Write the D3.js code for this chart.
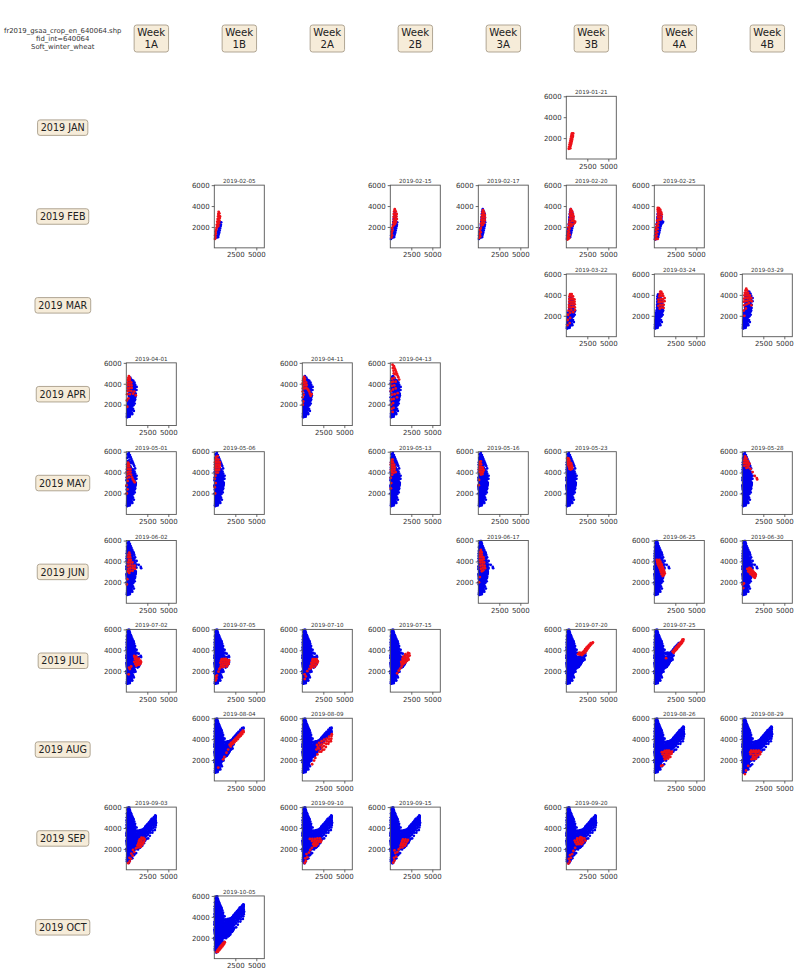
<!DOCTYPE html>
<html>
<head>
<meta charset="utf-8">
<script src="https://d3js.org/d3.v7.min.js"></script>
<style>
  html, body { margin: 0; padding: 0; background: #fff; }
  text { font-family: "DejaVu Sans", sans-serif; }
</style>
</head>
<body>
<div id="svgdiv"></div>
<script>
// labels
const titleLines = ["fr2019_gsaa_crop_en_640064.shp", "fid_int=640064", "Soft_winter_wheat"];
const weeks = ["1A", "1B", "2A", "2B", "3A", "3B", "4A", "4B"];
const months = ["JAN", "FEB", "MAR", "APR", "MAY", "JUN", "JUL", "AUG", "SEP", "OCT"];
const xTicks = [2500, 5000];
const yTicks = [2000, 4000, 6000];

// acquisition dates and the week column each one sits in
const dates = ["2019-01-21",
  "2019-02-05", "2019-02-15", "2019-02-17", "2019-02-20", "2019-02-25",
  "2019-03-22", "2019-03-24", "2019-03-29",
  "2019-04-01", "2019-04-11", "2019-04-13",
  "2019-05-01", "2019-05-06", "2019-05-13", "2019-05-16", "2019-05-23", "2019-05-28",
  "2019-06-02", "2019-06-17", "2019-06-25", "2019-06-30",
  "2019-07-02", "2019-07-05", "2019-07-10", "2019-07-15", "2019-07-20", "2019-07-25",
  "2019-08-04", "2019-08-09", "2019-08-26", "2019-08-29",
  "2019-09-03", "2019-09-10", "2019-09-15", "2019-09-20",
  "2019-10-05"];
const dateWeeks = ["3B",
  "1B", "2B", "3A", "3B", "4A",
  "3B", "4A", "4B",
  "1A", "2A", "2B",
  "1A", "1B", "2B", "3A", "3B", "4B",
  "1A", "3A", "4A", "4B",
  "1A", "1B", "2A", "2B", "3B", "4A",
  "1B", "2A", "4A", "4B",
  "1A", "2A", "2B", "3B",
  "1B"];

// scatter points per date [x, y], estimated by eye from each panel
const p0121 = [[300,980],[470,1030],[340,1180],[520,1260],[400,1400],[590,1450],[460,1600],[640,1660],[510,1800],[690,1850],[550,1980],[740,2050],[600,2180],[790,2200],[640,2330],[820,2440],[680,2450]];
const p0205 = [[80,850],[130,1000],[100,1180],[170,1350],[150,1550],[230,1700],[260,1900],[350,2000],[480,2100],[300,2200],[420,2300],[560,2350],[350,2500],[500,2550],[620,2600],[400,2750],[550,2800],[650,2850],[450,3000],[580,3050],[680,3000],[480,3250],[600,3300],[520,3450]];
const p0215 = [[120,1000],[200,1200],[170,1450],[250,1650],[220,1900],[330,2100],[450,2200],[580,2300],[370,2400],[500,2500],[680,2500],[420,2700],[600,2750],[780,2750],[400,2950],[550,3000],[720,3000],[420,3250],[580,3250],[760,3250],[470,3500],[640,3500],[530,3700]];
const p0217 = [[110,950],[230,1100],[160,1300],[280,1500],[200,1700],[300,1900],[400,2150],[550,2200],[330,2350],[480,2450],[700,2400],[380,2650],[560,2700],[760,2650],[400,2900],[600,2950],[800,2900],[440,3150],[620,3200],[780,3150],[500,3400],[680,3400],[560,3600]];
const p0220 = [[120,800],[240,850],[360,950],[110,1050],[250,1150],[420,1250],[180,1350],[320,1500],[230,1650],[380,1800],[260,1950],[450,2050],[620,2100],[320,2250],[550,2300],[820,2250],[1000,2400],[1050,2500],[380,2500],[680,2550],[880,2600],[420,2750],[620,2800],[830,2800],[480,3000],[680,3050],[860,3000],[440,3250],[620,3300],[790,3250],[500,3500],[690,3500],[540,3700]];
const p0225 = [[110,820],[250,900],[400,850],[130,1100],[300,1200],[150,1400],[350,1500],[180,1700],[400,1800],[220,1950],[440,2100],[300,2250],[480,2400],[340,2600],[460,2700],[620,2700],[800,2720],[430,2950],[600,2950],[830,2950],[450,3200],[620,3200],[880,3200],[440,3450],[620,3450],[820,3400],[400,3650],[580,3680],[720,3620],[420,3830],[560,3790]];
const p0322 = [[140,1100],[400,1300],[180,1600],[460,1800],[220,2100],[460,2300],[820,2350],[280,2500],[600,2550],[1020,2550],[330,2800],[560,2800],[780,2850],[1020,2800],[330,3050],[540,3100],[780,3100],[1000,3100],[360,3350],[570,3350],[800,3350],[980,3350],[360,3600],[570,3620],[780,3620],[960,3580],[380,3850],[600,3850],[800,3850],[450,4060],[640,4080]];
const p0324 = [[650,2700],[860,2800],[1100,2750],[500,2950],[720,3050],[950,3050],[1120,3050],[530,3300],[740,3350],[960,3350],[1210,3400],[500,3550],[760,3600],[1000,3600],[1230,3700],[600,3850],[830,3900],[1060,3900],[640,4100],[820,4150],[980,4100],[720,4320],[840,4280]];
const p0329 = [[250,2000],[180,2500],[420,2700],[230,3000],[500,3100],[760,3200],[1080,3000],[150,3350],[380,3400],[620,3450],[880,3500],[1110,3400],[200,3650],[420,3700],[650,3700],[860,3750],[1080,3700],[250,3950],[470,3950],[680,3950],[900,3950],[300,4200],[510,4200],[700,4200],[380,4420],[570,4430],[470,4600]];
const p0401 = [[120,1800],[70,2400],[250,2600],[100,3000],[420,3000],[800,3050],[1130,2900],[160,3300],[370,3350],[600,3300],[950,3250],[180,3550],[400,3600],[640,3600],[170,3850],[400,3850],[630,3850],[160,4100],[380,4100],[590,4120],[200,4350],[420,4350],[240,4550],[420,4550],[310,4730]];
const p0411 = [[60,2000],[110,2300],[40,2700],[160,2950],[40,3250],[1000,2850],[1100,3000],[900,3050],[820,3250],[720,3400],[620,3500],[60,3550],[280,3550],[480,3620],[90,3800],[300,3850],[520,3880],[60,4050],[260,4080],[460,4120],[90,4300],[280,4330],[130,4500],[320,4500],[230,4660]];
const p0413 = [[280,1300],[160,1600],[390,1700],[100,2000],[340,2150],[150,2500],[420,2550],[800,2700],[220,2950],[520,3000],[880,3100],[60,3300],[320,3450],[640,3550],[200,3800],[470,3850],[130,4150],[340,4200],[640,4200],[1050,4400],[220,4480],[480,4550],[950,4620],[860,4780],[790,4950],[560,4900],[700,5120],[420,5000],[610,5300],[390,5250],[520,5480],[300,5500],[430,5680],[270,5820]];
const p0501 = [[60,2000],[140,2400],[40,2800],[1000,3070],[900,3200],[160,3200],[780,3350],[80,3500],[330,3550],[680,3550],[120,3800],[370,3850],[570,3800],[80,4050],[290,4100],[500,4100],[100,4350],[300,4350],[490,4350],[130,4600],[320,4600],[170,4800],[310,4820],[220,4950]];
const p0506 = [[100,2000],[60,2600],[170,3000],[60,3400],[130,3700],[230,4000],[430,4000],[120,4250],[330,4250],[570,4250],[80,4500],[280,4500],[500,4500],[640,4500],[100,4750],[300,4750],[500,4750],[660,4750],[90,5000],[290,5000],[490,5000],[640,5000],[130,5250],[330,5250],[520,5250],[210,5450],[380,5570]];
const p0513 = [[70,2500],[110,3000],[60,3500],[220,3800],[200,4050],[420,4000],[640,4050],[70,4250],[280,4280],[500,4280],[120,4500],[320,4500],[540,4500],[60,4750],[270,4750],[470,4750],[100,5000],[300,5000],[140,5220],[280,5250]];
const p0516 = [[60,2800],[90,3300],[300,3820],[480,3850],[120,4050],[330,4080],[560,4050],[80,4300],[290,4300],[520,4300],[660,4250],[120,4550],[320,4550],[530,4500],[150,4800],[330,4800],[180,5020],[300,5070]];
const p0523 = [[520,4290],[380,4350],[670,4350],[300,4550],[500,4550],[700,4500],[230,4750],[420,4780],[640,4700],[200,4950],[390,4980],[570,4900],[150,5150],[350,5180],[250,5350],[120,5380]];
const p0528 = [[1770,3350],[1720,3480],[1480,3680],[1230,4050],[980,4350],[500,4450],[700,4500],[250,4650],[480,4700],[730,4700],[220,4900],[450,4920],[680,4900],[860,4850],[230,5150],[450,5150],[660,5100],[300,5350],[500,5350],[350,5540]];
const p0602 = [[60,1800],[120,2300],[350,2900],[200,3050],[500,3100],[750,3100],[260,3300],[500,3350],[820,3350],[1050,3300],[220,3600],[470,3620],[740,3600],[1000,3600],[240,3900],[480,3900],[730,3900],[300,4150],[540,4150],[240,4400],[460,4400],[250,4650],[430,4650],[350,4850]];
const p0617 = [[80,2000],[180,2500],[420,3060],[590,3150],[300,3300],[550,3400],[800,3350],[270,3600],[500,3650],[760,3600],[250,3900],[480,3900],[700,3900],[230,4150],[450,4150],[640,4200],[200,4400],[410,4400],[600,4400],[220,4650],[420,4650],[240,4880],[400,4880],[300,5100]];
const p0625 = [[1000,2600],[1150,2700],[880,2780],[1250,2850],[1050,2950],[780,3000],[1180,3050],[950,3150],[700,3200],[1100,3250],[860,3350],[600,3400],[1000,3450],[760,3550],[500,3600],[900,3650],[640,3700],[400,3750],[820,3800],[560,3900],[340,3950],[720,3980],[480,4080],[300,4160],[600,4160]];
const p0630 = [[120,1450],[60,1800],[200,1900],[1500,2440],[1350,2500],[1580,2600],[1200,2650],[1430,2700],[1600,2750],[1000,2780],[1250,2850],[1500,2880],[860,2950],[1100,3000],[1350,3000],[700,3050],[950,3150],[1200,3150],[800,3250],[1000,3300],[600,3280],[850,3380]];
const p0702 = [[280,1700],[420,2200],[580,2450],[330,2350],[1180,2530],[1350,2600],[1550,2620],[1700,2720],[1080,2700],[1280,2780],[1500,2820],[1760,2870],[950,2900],[1180,2950],[1420,3000],[1680,3020],[1050,3150],[1280,3180],[1500,3200],[1000,3320],[1200,3400],[940,3470]];
const p0705 = [[160,1100],[260,1300],[180,1500],[320,1600],[500,1950],[600,2200],[720,2350],[980,2400],[1200,2420],[1500,2450],[800,2550],[1050,2620],[1300,2650],[1550,2650],[1720,2700],[720,2800],[950,2820],[1200,2850],[1450,2850],[1700,2900],[800,3000],[1050,3050],[1300,3050],[1550,3050],[1750,3050],[880,3160],[1130,3180],[1400,3180]];
const p0710 = [[300,1250],[420,1500],[280,1700],[600,2000],[850,2220],[1050,2300],[980,2500],[1200,2450],[1450,2400],[1150,2650],[1400,2650],[1650,2600],[1080,2800],[1300,2850],[1550,2850],[1800,2800],[1200,3000],[1450,3000],[1700,3000],[1840,2950],[1250,3160],[1500,3160],[1700,3150]];
const p0715 = [[820,1800],[1000,2050],[1180,2250],[1350,2450],[1500,2650],[1650,2750],[1800,2850],[2000,3000],[2180,3100],[1350,2700],[1500,2850],[1700,2950],[1900,3100],[2100,3250],[1300,2900],[1500,3050],[1700,3150],[1900,3300],[2150,3400],[2300,3500],[1450,3200],[1650,3350],[1850,3500],[2050,3550],[2250,3700],[1550,3400],[1800,3620],[2100,3750]];
const p0720 = [[1400,3630],[1600,3600],[1850,3550],[1550,3780],[1750,3750],[1950,3620],[2050,3700],[2250,3780],[2000,3850],[2150,3950],[2400,3950],[2250,4100],[2500,4100],[2400,4250],[2650,4250],[2550,4380],[2800,4400],[2700,4520],[2950,4550],[2900,4680],[3100,4680],[3160,4760]];
const p0725 = [[1400,3250],[2180,3880],[2300,3760],[2400,3880],[2330,4020],[2550,4000],[2480,4150],[2700,4130],[2620,4300],[2850,4280],[2780,4440],[3000,4430],[2930,4580],[3150,4570],[3080,4720],[3300,4720],[3240,4860],[3430,4880],[3470,5040],[3340,5010]];
const p0804 = [[470,1280],[1050,2070],[1200,2300],[1450,2700],[1650,3000],[1830,3470],[1950,3300],[2050,3480],[2000,3650],[2200,3550],[2200,3750],[2400,3700],[2350,3900],[2600,3850],[2520,4050],[2780,4000],[2700,4200],[2950,4180],[2880,4350],[3150,4320],[3060,4500],[3300,4480],[3230,4650],[3470,4650],[3400,4820],[3470,4750]];
const p0809 = [[1170,1600],[1400,1950],[1550,2200],[1680,3000],[1800,2540],[1850,3200],[2050,2800],[1750,3450],[2000,3100],[2250,2800],[2400,2950],[2100,3400],[2350,3200],[2600,3000],[2000,3650],[2300,3500],[2550,3350],[2800,3250],[2300,3800],[2600,3650],[2850,3550],[3100,3550],[2600,3950],[2900,3800],[3150,3750],[3400,3800],[2900,4050],[3200,4000],[3450,4050],[3200,4250],[3480,4300],[3510,4480]];
const p0826 = [[820,1440],[1000,1500],[1250,2070],[1400,2150],[1650,2150],[1150,2300],[1450,2350],[1700,2350],[1900,2300],[1000,2550],[1250,2500],[1550,2550],[1800,2550],[2050,2600],[900,2750],[1150,2750],[1400,2700],[1650,2750],[1900,2780],[2100,2800],[1250,2880],[1500,2900],[1750,2900]];
const p0829 = [[310,660],[450,1000],[700,1450],[1100,2070],[1350,2100],[1600,2120],[1250,2300],[1500,2300],[1750,2350],[1000,2550],[1300,2500],[1600,2550],[1900,2500],[2100,2550],[950,2750],[1200,2750],[1500,2750],[1800,2750],[2180,2750],[1050,2900],[1350,2900],[1650,2900],[1950,2900]];
const p0903 = [[230,630],[400,800],[550,1050],[380,1150],[750,1350],[600,1550],[950,1700],[800,1900],[1150,2050],[1290,2130],[1500,2150],[1750,2200],[1350,2350],[1600,2350],[1900,2400],[1450,2550],[1700,2550],[2000,2550],[1500,2750],[1800,2750],[2100,2700],[1600,2900],[1900,2950],[2180,2900],[1800,3070],[2050,3050]];
const p0910 = [[290,650],[430,850],[360,1100],[600,1200],[500,1500],[800,1650],[950,1900],[1150,2100],[1400,2280],[1650,2300],[1300,2450],[1550,2450],[1800,2450],[1400,2600],[1650,2650],[1950,2650],[2200,2650],[1150,2750],[1450,2800],[1750,2800],[2000,2800],[2260,2800],[900,2950],[1200,2950],[1500,2950],[1800,3000],[2100,3000]];
const p0915 = [[350,680],[500,900],[450,1150],[700,1250],[600,1600],[850,1700],[500,1850],[1000,1950],[1200,2130],[1450,2150],[1250,2350],[1500,2350],[1750,2300],[1330,2550],[1600,2550],[1850,2500],[1400,2750],[1700,2750],[2000,2700],[1500,2900],[1800,2900],[2100,2850]];
const p0920 = [[250,600],[420,800],[300,1050],[550,1150],[450,1400],[700,1500],[850,1800],[1050,2100],[1250,2440],[1500,2450],[1800,2450],[1100,2620],[1400,2650],[1700,2650],[2000,2620],[1010,2800],[1300,2850],[1600,2850],[1900,2850],[2280,2800],[1300,3000],[1600,3020],[1900,3050],[2150,3000],[1700,3130]];
const p1005 = [[270,630],[430,660],[380,780],[570,800],[500,920],[700,930],[620,1050],[820,1050],[740,1180],[950,1170],[860,1300],[1070,1300],[1000,1430],[1180,1420],[1130,1520],[1250,1570]];

const pointsByDate = [p0121, p0205, p0215, p0217, p0220, p0225, p0322, p0324, p0329, p0401, p0411, p0413,
  p0501, p0506, p0513, p0516, p0523, p0528, p0602, p0617, p0625, p0630,
  p0702, p0705, p0710, p0715, p0720, p0725, p0804, p0809, p0826, p0829,
  p0903, p0910, p0915, p0920, p1005];

// blue points that show up without a red panel of their own, and the date they appear from
const fillMar = [[150,1000],[300,1150],[500,1150],[650,1250],[200,1500],[420,1500],[650,1500],[800,1600],[150,1900],[380,1950],[600,1900],[850,1950],[200,2300],[600,2300],[900,2300],[720,1100],[900,1400],[1000,2100]];
const fillMay = [[100,4800],[200,5100],[100,5400],[250,5600],[150,5750],[300,5900],[400,5500],[500,5050],[250,1200],[550,1300],[300,1700],[700,1700],[150,2200],[500,2600],[750,2100],[950,2700],[350,3100],[600,2900],[850,3400],[1050,3500],[150,3600],[500,3750],[800,3900]];
const fillJun = [[80,4600],[300,4500],[600,4500],[800,4350],[90,5000],[400,5000],[700,4800],[100,5350],[450,5300],[600,5100],[200,5500],[400,5750],[250,5950],[350,5950],[700,3100],[900,2700],[1100,3100],[1200,3300],[100,2800],[300,2400],[550,2200],[850,2250]];
const fillJul = [[100,1000],[400,1000],[600,1200],[800,1500],[200,1400],[500,1650],[900,1900],[100,2000],[350,2100],[650,2200],[1000,2150],[1150,2450],[200,2700],[500,2800],[800,2800],[100,3200],[350,3300],[650,3300],[1000,3500],[1300,3150],[100,3700],[400,3800],[700,3800],[1000,3800],[1300,3750],[100,4200],[450,4300],[750,4150],[1050,4150],[550,4700],[850,4550],[300,5200],[550,5400],[1150,2800],[1500,3350],[1100,1950],[300,1450],[1350,2350]];
const fillAug = [[3470,5100],[3300,5050],[3100,4900],[2900,4700],[2700,4500],[2500,4300],[2300,4150],[2100,3950],[1900,3850],[1700,3800],[1500,3500],[1300,3500],[1750,3200],[1550,3050],[1350,2950],[1150,3150],[850,3050],[650,3600],[400,4650],[700,4350]];
const fillLate = [[1500,3300],[1800,3300],[2100,3200],[1700,3700],[2000,3400],[2300,3300],[2600,3450],[2150,3650],[2450,3500],[2800,3600],[2400,3900],[2700,3800],[3000,3900],[2300,4000],[2650,4100],[2950,4100],[3250,4150],[3500,4250],[2550,4350],[2850,4400],[3100,4400],[3350,4400],[3550,4500],[2800,4600],[3000,4650],[3250,4650],[3500,4700],[3000,4850],[3250,4900],[3500,4950],[3300,5050],[3500,5150],[3450,5200]];
const fillFrom = ["2019-03-22", "2019-05-01", "2019-06-17", "2019-07-02", "2019-08-04", "2019-08-26"];
const fillPoints = [fillMar, fillMay, fillJun, fillJul, fillAug, fillLate];

var svgextent = [800, 978];
var svg = d3.select("#svgdiv").append("svg")
    .attr("width", svgextent[0])
    .attr("height", svgextent[1])
    .style("display", "block");

// grid of the panels, in pixels
let gridLeft = 126.3, colStep = 88, panelW = 50;
let gridTop = 96.3, rowStep = 88.85, panelH = 62.7;
let labelX = 62.7;

var x = d3.scaleLinear().domain([0, 5950]).range([0, panelW]);
var y = d3.scaleLinear().domain([0, 6000]).range([panelH, 0]);

// rounded label box, sized from its text
function labelBox(cx, cy, lines, size) {
    var g = svg.append("g").attr("transform", "translate(" + cx + "," + cy + ")");
    var rect = g.append("rect");
    var t = g.append("text")
        .attr("text-anchor", "middle")
        .style("font-size", size + "px")
        .style("fill", "#222");
    lines.forEach(function (l, i) {
        t.append("tspan").attr("x", 0)
            .attr("y", (i - (lines.length - 1) / 2) * 11.5 + 3.6)
            .text(l);
    });
    var b = t.node().getBBox();
    var h = lines.length * 11.5 + 4;
    rect.attr("x", b.x - 3.2).attr("y", -h / 2)
        .attr("width", b.width + 6.4).attr("height", h)
        .attr("rx", 2.5)
        .style("fill", "#f6ecd9")
        .style("stroke", "#a89d8a")
        .style("stroke-width", "0.9px");
}

// header text top left
svg.append("g").selectAll("text")
    .data(titleLines)
    .enter().append("text")
    .attr("x", labelX)
    .attr("y", (d, i) => 32.5 + i * 8.1)
    .attr("text-anchor", "middle")
    .style("font-size", "6.9px")
    .style("fill", "#333")
    .text(d => d);

weeks.forEach(function (w, j) {
    labelBox(gridLeft + j * colStep + panelW / 2, 38.5, ["Week", w], 10.2);
});
months.forEach(function (m, i) {
    labelBox(labelX, gridTop + i * rowStep + panelH / 2, ["2019 " + m], 9.6);
});

dates.forEach(function (date, k) {
    var row = +date.slice(5, 7) - 1;
    var col = weeks.indexOf(dateWeeks[k]);
    var g = svg.append("g")
        .attr("transform", "translate(" + (gridLeft + col * colStep) + "," + (gridTop + row * rowStep) + ")");

    // everything seen before this date is blue, this date is red on top
    var earlier = d3.merge(pointsByDate.slice(0, k));
    fillFrom.forEach(function (from, f) {
        if (date >= from) earlier = earlier.concat(fillPoints[f]);
    });
    g.append("g").selectAll("circle")
        .data(earlier)
        .enter().append("circle")
        .attr("cx", d => x(d[0]))
        .attr("cy", d => y(d[1]))
        .attr("r", 1.35)
        .style("fill", "#0000ee");
    g.append("g").selectAll("circle")
        .data(pointsByDate[k])
        .enter().append("circle")
        .attr("cx", d => x(d[0]))
        .attr("cy", d => y(d[1]))
        .attr("r", 1.4)
        .style("fill", "#ee1018");

    // frame
    g.append("rect")
        .attr("width", panelW)
        .attr("height", panelH)
        .style("fill", "none")
        .style("stroke", "#555")
        .style("stroke-width", "0.9px");

    var xAxis = g.append("g")
        .attr("transform", "translate(0," + panelH + ")")
        .call(d3.axisBottom(x).tickValues(xTicks).tickFormat(d3.format("d")).tickSize(2.6).tickPadding(2));
    var yAxis = g.append("g")
        .call(d3.axisLeft(y).tickValues(yTicks).tickFormat(d3.format("d")).tickSize(2.6).tickPadding(2));
    [xAxis, yAxis].forEach(function (a) {
        a.select(".domain").remove();
        a.selectAll("line").style("stroke", "#444").style("stroke-width", "0.8px");
        a.selectAll("text").style("font-size", "7px").style("fill", "#333")
            .style("font-family", '"DejaVu Sans", sans-serif');
    });

    g.append("text")
        .attr("x", panelW / 2)
        .attr("y", -2)
        .attr("text-anchor", "middle")
        .style("font-size", "5.6px")
        .style("fill", "#333")
        .text(date);
});
</script>
</body>
</html>
